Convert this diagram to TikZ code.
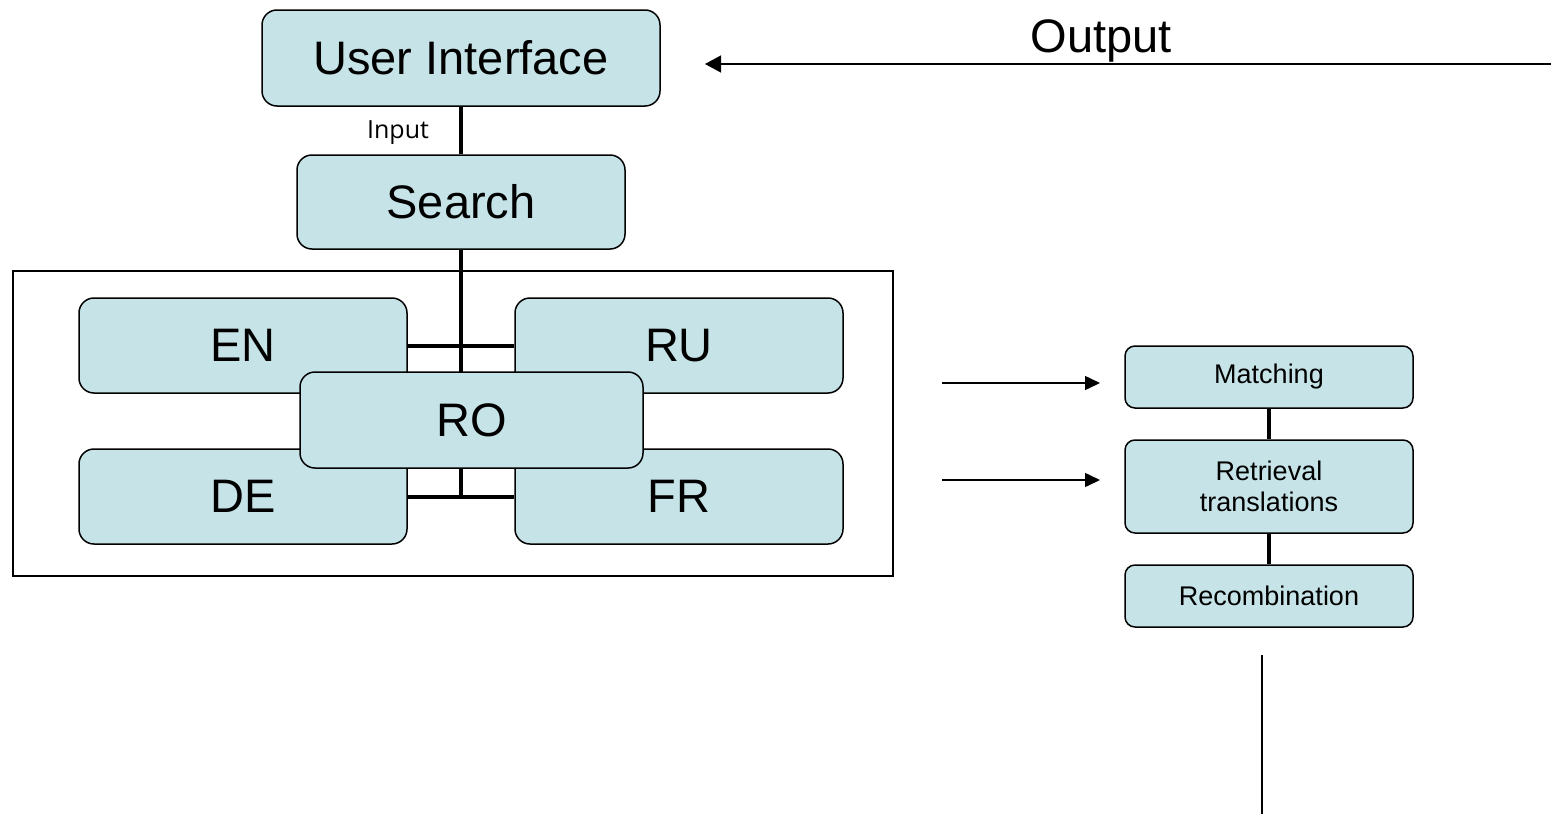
\documentclass[tikz,border=0pt]{standalone}
\usepackage{fontspec}
\setmainfont{Liberation Sans}
\newfontfamily\inputfont{Open Sans}
\usetikzlibrary{arrows.meta}
\definecolor{boxfill}{RGB}{198,228,232}
\begin{document}
\begin{tikzpicture}[x=1pt,y=-1pt,
  bigbox/.style={draw=black, line width=1.5pt, fill=boxfill, rounded corners=15pt, inner sep=0pt, font=\fontsize{47}{52}\selectfont},
  smallbox/.style={draw=black, line width=1.5pt, fill=boxfill, rounded corners=10pt, inner sep=0pt, minimum width=288pt, align=center, font=\fontsize{27}{31}\selectfont},
  thick link/.style={line width=4pt},
  thin arrow/.style={line width=1.5pt, -{Triangle[length=15pt,width=14pt]}},
  thin line/.style={line width=1.5pt}]
\useasboundingbox (0,0) rectangle (1551,814);

% outer frame
\draw[thin line] (13,271) rectangle (893,576);

% top boxes
\node[bigbox, minimum width=398pt, minimum height=96pt] (ui) at (461,58) {User Interface};
\node[bigbox, minimum width=328pt, minimum height=94pt] (search) at (461,202) {Search};
\coordinate (hub) at (461,497);

\draw[thick link] (ui.south) -- (search.north);
\draw[thick link] (search.south) -- (hub);

% language boxes
\node[bigbox, minimum width=328pt, minimum height=95pt] (en) at (243,345.5) {EN};
\node[bigbox, minimum width=328pt, minimum height=95pt] (ru) at (679,345.5) {RU};
\node[bigbox, minimum width=328pt, minimum height=95pt] (de) at (243,496.5) {DE};
\node[bigbox, minimum width=328pt, minimum height=95pt] (fr) at (679,496.5) {FR};
\draw[thick link] (en.east) -- (ru.west);
\draw[thick link] (de.east) -- (fr.west);
\node[bigbox, minimum width=343pt, minimum height=96pt] (ro) at (471.5,420) {RO};

% Input label
\node[anchor=base, inner sep=0pt, font=\inputfont\fontsize{25}{30}\selectfont] (inlabel) at (398,138) {Input};

% Output arrow
\coordinate (outstart) at (1551,64);
\coordinate (outend) at (705,64);
\draw[thin line, -{Triangle[length=16pt,width=17pt]}] (outstart) -- (outend);
\node[anchor=base, inner sep=0pt, font=\fontsize{47}{52}\selectfont] (outlabel) at (1101,52) {Output};

% right boxes
\node[smallbox, minimum height=62pt] (match) at (1269,377) {Matching};
\node[smallbox, minimum height=93pt] (retr) at (1269,486.5) {Retrieval\\translations};
\node[smallbox, minimum height=62pt] (recomb) at (1269,596) {Recombination};
\draw[thick link] (match.south) -- (retr.north);
\draw[thick link] (retr.south) -- (recomb.north);

% arrows into right boxes
\coordinate (a1s) at (942,383);
\coordinate (a1e) at (1100,383);
\coordinate (a2s) at (942,480);
\coordinate (a2e) at (1100,480);
\draw[thin arrow] (a1s) -- (a1e);
\draw[thin arrow] (a2s) -- (a2e);

% bottom line
\coordinate (b1) at (1262,655);
\coordinate (b2) at (1262,814);
\draw[thin line] (b1) -- (b2);
\end{tikzpicture}
\end{document}
